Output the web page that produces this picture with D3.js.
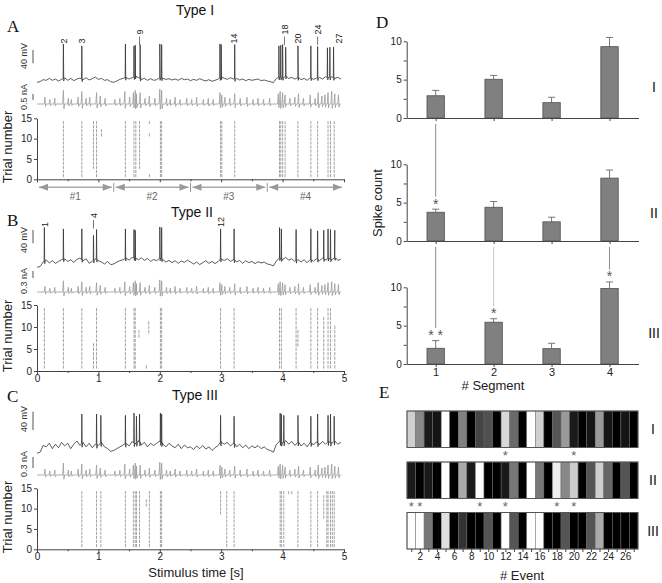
<!DOCTYPE html>
<html>
<head>
<meta charset="utf-8">
<script src="https://cdn.jsdelivr.net/npm/d3@7"></script>
<style>
  body { margin: 0; background: #fff; }
  svg { display: block; font-family: "Liberation Sans", Arial, sans-serif; }
  text { fill: #111; }
  .letter { font-family: "Liberation Serif", "Times New Roman", serif; font-size: 17px; }
</style>
</head>
<body>
<svg id="fig" width="662" height="583"></svg>
<script>
// ---- membrane potential, one trial, sampled every 50 ms (mV) ----
const vmStep = 0.05;
const vmTypeI = [-72,-70,-64,-66,-60,-66,-62,-68,-63,-58,
  -66,-60,-67,-62,-59,-64,-58,-65,-61,-56,
  -63,-60,-66,-64,-70,-72,-68,-63,-60,-57,
  -62,-58,-54,-57,-63,-60,-66,-61,-66,-64,
  -58,-60,-63,-61,-65,-62,-66,-60,-64,-62,
  -67,-63,-66,-61,-65,-68,-64,-69,-66,-62,
  -56,-60,-63,-58,-62,-60,-65,-62,-67,-63,
  -66,-64,-62,-67,-65,-68,-70,-73,-60,-56,
  -58,-54,-60,-57,-62,-58,-64,-60,-66,-58,
  -63,-60,-57,-62,-55,-58,-55,-60,-57,-62,
  -59];
const vmTypeII = [-78,-76,-62,-55,-65,-58,-66,-60,-55,-52,
  -60,-55,-63,-54,-50,-58,-52,-66,-60,-52,
  -58,-62,-68,-60,-70,-68,-62,-58,-55,-50,
  -56,-48,-50,-55,-49,-57,-51,-60,-54,-58,
  -50,-55,-62,-57,-64,-58,-66,-59,-63,-56,
  -62,-68,-62,-70,-64,-58,-66,-60,-67,-60,
  -52,-57,-52,-60,-55,-62,-57,-66,-58,-64,
  -60,-67,-61,-65,-62,-68,-70,-74,-58,-50,
  -54,-48,-56,-52,-60,-54,-62,-55,-64,-54,
  -60,-52,-58,-50,-56,-50,-55,-49,-57,-53,
  -56];
const vmTypeIII = [-72,-70,-55,-58,-50,-62,-52,-60,-48,-56,
  -50,-62,-52,-45,-55,-48,-58,-50,-60,-52,
  -55,-48,-58,-62,-68,-66,-62,-58,-54,-50,
  -56,-46,-52,-44,-54,-48,-58,-50,-55,-50,
  -45,-52,-58,-50,-56,-60,-52,-62,-54,-60,
  -58,-64,-56,-62,-55,-63,-58,-66,-60,-55,
  -46,-52,-48,-56,-50,-58,-52,-60,-54,-62,
  -56,-60,-55,-62,-58,-64,-66,-70,-52,-46,
  -50,-44,-52,-46,-55,-48,-56,-50,-58,-48,
  -54,-47,-53,-46,-52,-46,-50,-45,-52,-48,
  -52];

// spikes in the example trial: [time s, peak mV]
const spikesTypeI = [[0.43,46],[0.73,40],[1.44,46],[1.58,40],[1.60,42],[1.68,44],[2.00,46],[2.03,44],
  [2.98,46],[3.00,44],[3.22,44],[3.94,40],[3.97,42],[4.00,44],[4.05,36],[4.25,40],[4.46,40],
  [4.57,38],[4.73,34],[4.77,36],[4.83,36]];
const spikesTypeII = [[0.12,44],[0.43,40],[0.73,40],[0.92,20],[0.97,38],[1.44,40],[1.58,38],[1.60,36],
  [2.00,46],[2.03,44],[2.99,40],[3.21,40],[3.95,44],[3.98,40],[4.22,38],[4.46,40],[4.57,34],
  [4.67,36],[4.74,40],[4.78,38],[4.85,36]];
const spikesTypeIII = [[0.73,15],[0.97,15],[1.04,12],[1.44,12],[1.58,17],[1.62,10],[1.67,15],[2.01,17],
  [2.03,15],[2.99,12],[3.21,10],[3.96,17],[3.98,15],[4.02,12],[4.25,12],[4.46,10],[4.57,15],
  [4.74,12],[4.78,15],[4.84,10]];

// injected current peaks for type I (nA); other cells got a scaled copy
const stimPeaks = [[0.13,0.6],[0.21,0.4],[0.29,0.5],[0.43,1.2],[0.51,0.5],[0.56,0.4],[0.67,0.6],[0.73,1.1],
  [0.80,0.5],[0.86,0.6],[0.97,1.0],[1.03,0.7],[1.11,0.5],[1.27,0.4],[1.35,0.5],[1.43,1.1],[1.51,0.6],
  [1.57,1.0],[1.60,1.2],[1.62,0.9],[1.68,1.0],[1.76,0.5],[1.83,0.7],[1.92,0.5],[2.00,1.3],[2.03,1.2],
  [2.11,0.5],[2.17,0.4],[2.25,0.6],[2.33,0.4],[2.44,0.5],[2.52,0.4],[2.60,0.6],[2.71,0.4],[2.79,0.5],
  [2.87,0.4],[2.98,1.0],[3.01,0.8],[3.06,0.6],[3.14,0.5],[3.22,0.9],[3.31,0.5],[3.42,0.6],[3.52,0.4],
  [3.60,0.5],[3.69,0.4],[3.79,0.5],[3.93,0.9],[3.96,1.1],[4.00,1.0],[4.04,0.8],[4.12,0.5],[4.20,0.6],
  [4.26,0.9],[4.34,0.5],[4.45,0.8],[4.53,0.5],[4.58,1.0],[4.64,0.7],[4.69,0.8],[4.74,1.0],[4.80,1.1],
  [4.85,0.9],[4.91,0.8]];
const stimGain = [1, 0.4, 0.27];

// raster events: [time s, first trial, last trial]
const rasterTypeI = [[0.43,1,14],[0.73,1,14],[0.92,3,14],[0.97,1,14],[1.05,11,12],[1.44,1,14],[1.58,1,14],
  [1.61,1,14],[1.67,3,14],[1.83,14,14],[1.83,11,11],[1.83,1,1],[2.01,1,14],[2.03,1,14],[2.99,1,14],
  [3.01,1,14],[3.22,1,14],[3.95,1,14],[3.97,1,14],[4.00,1,14],[4.04,1,14],[4.25,1,14],[4.46,1,14],
  [4.57,1,14],[4.74,1,14],[4.78,1,14],[4.84,1,14]];
const rasterTypeII = [[0.12,1,14],[0.43,1,14],[0.73,1,14],[0.92,1,6],[0.97,1,14],[1.44,1,14],[1.58,1,14],
  [1.60,1,14],[1.66,8,9],[1.78,1,1],[1.82,9,11],[2.01,1,14],[2.03,1,14],[2.99,1,14],[3.21,1,14],
  [3.95,1,14],[3.98,1,14],[4.22,1,14],[4.25,6,9],[4.46,1,14],[4.57,1,14],[4.67,1,12],[4.74,1,14],
  [4.78,1,14],[4.85,1,10]];
const rasterTypeIII = [[0.73,1,14],[0.97,1,14],[1.04,1,14],[1.44,1,14],[1.57,1,14],[1.60,1,14],[1.62,1,14],
  [1.67,1,14],[1.78,11,12],[1.83,1,14],[2.01,1,14],[2.03,1,14],[2.99,9,14],[3.09,1,14],[3.21,1,14],
  [3.96,1,14],[3.98,1,14],[4.02,1,14],[4.10,14,14],[4.15,14,14],[4.25,1,14],[4.46,1,14],[4.57,1,14],
  [4.67,8,13],[4.72,1,14],[4.74,1,14],[4.78,1,14],[4.81,1,14],[4.84,1,14]];

// event numbers written over the traces: [number, time s, raised]
const eventLabelsTypeI = [[2,0.43,0],[3,0.73,0],[9,1.67,1],[14,3.21,0],[18,4.03,1],[20,4.25,0],[24,4.57,1],[27,4.92,0]];
const eventLabelsTypeII = [[1,0.12,0],[4,0.92,1],[12,2.99,0]];
const eventLabelsTypeIII = [];

const segmentNames = ["#1", "#2", "#3", "#4"];
const segmentBounds = [0, 1.25, 2.5, 3.75, 5];
const timeTicks = [0, 0.5, 1, 1.5, 2, 2.5, 3, 3.5, 4, 4.5, 5];
const trialTicks = [0, 5, 10, 15];

// panel D
const segmentTicks = [1, 2, 3, 4];
const spikeCountI = [2.9, 5.05, 2.0, 9.3];
const semI = [0.7, 0.5, 0.7, 1.2];
const spikeCountII = [3.75, 4.4, 2.5, 8.2];
const semII = [0.4, 0.75, 0.6, 1.05];
const spikeCountIII = [2.05, 5.45, 2.0, 9.85];
const semIII = [1.0, 0.45, 0.7, 0.85];
const countTicks = [0, 2.5, 5, 7.5, 10];
const starsI = [];
const starsII = [[1, "*"]];
const starsIII = [[1, "* *"], [2, "*"], [4, "*"]];
const starLinks = [[1, 0, 1], [1, 1, 2], [2, 1, 2], [4, 1, 2]]; // segment, from row, to row

// panel E: grey level of each event (0 black .. 255 white)
const eventGrayI = [208,136,26,21,255,0,128,0,68,80,0,216,106,0,255,208,0,85,153,26,0,21,153,21,0,21,0];
const eventGrayII = [26,0,26,0,255,0,170,26,255,0,0,26,119,0,255,119,0,238,136,204,0,85,208,102,0,85,0];
const eventGrayIII = [255,255,119,0,224,0,51,0,0,85,0,255,85,0,255,255,0,0,85,0,0,85,170,0,0,0,0];
const eventStarsI = [12, 20];
const eventStarsII = [1, 2, 9, 12, 18, 20];
const eventStarsIII = [];
const eventTicks = [1,2,3,4,5,6,7,8,9,10,11,12,13,14,15,16,17,18,19,20,21,22,23,24,25,26,27];

const svg = d3.select("#fig");
const x = d3.scaleLinear().domain([0, 5]).range([37, 344]);
const tEnd = 4.95;
const axisColor = "#444";

function styleAxis(g, size) {
  g.attr("font-family", null).attr("font-size", size || 10);
  g.select(".domain").attr("stroke", axisColor);
  g.selectAll(".tick line").attr("stroke", axisColor);
  g.selectAll(".tick text").style("fill", "#222");
}

function tracePoints(vm, spikes) {
  const ts = vm.map((_, i) => i * vmStep);
  const base = d3.scaleLinear().domain(ts).range(vm);
  const pts = ts.map((t, i) => [t, vm[i]]);
  spikes.forEach(([t, peak]) => {
    const b = base(t);
    pts.push([t - 0.004, b], [t, peak], [t + 0.005, b - 8], [t + 0.014, b]);
  });
  return pts.filter(p => p[0] <= tEnd).sort((a, b) => a[0] - b[0]);
}

function stimPoints(gain) {
  const pts = [[0, 0], [tEnd, 0]];
  stimPeaks.forEach(([t, a]) => {
    pts.push([t - 0.012, 0], [t, a * gain], [t + 0.008, -0.35 * a * gain], [t + 0.02, 0]);
  });
  return pts.filter(p => p[0] >= 0 && p[0] <= tEnd).sort((a, b) => a[0] - b[0]);
}

// roman numerals: drawn with a tiny rotation so they get plain grey antialiasing
function roman(x0, y0, txt) {
  svg.append("text").attr("transform", `translate(${x0},${y0}) rotate(0.01)`)
    .attr("text-anchor", "middle").attr("font-size", 14).style("fill", "#111").text(txt);
}

const panels = [
  { title: "Type I", titleX: 195, titleY: 15, letter: "A", letterY: 32,
    vm: vmTypeI, spikes: spikesTypeI, labels: eventLabelsTypeI, raster: rasterTypeI, gain: stimGain[0],
    vRest: 80, pxPerMv: 13 / 40, iBase: 104, pxPerNa: 11.4,
    vBar: [50, 63.3], vText: "40 mV", vTextY: 56, iBar: [94, 100], iText: "0.5 nA", iTextY: 97,
    labelBase: 43.5, rTop: 118.3, rBot: 179.3, trialY: 147, xLabels: false },
  { title: "Type II", titleX: 192, titleY: 217, letter: "B", letterY: 226,
    vm: vmTypeII, spikes: spikesTypeII, labels: eventLabelsTypeII, raster: rasterTypeII, gain: stimGain[1],
    vRest: 263, pxPerMv: 13 / 40, iBase: 292, pxPerNa: 23.3,
    vBar: [230, 243.3], vText: "40 mV", vTextY: 240, iBar: [271, 278], iText: "0.3 nA", iTextY: 281,
    labelBase: 227, rTop: 305, rBot: 371, trialY: 336, xLabels: true },
  { title: "Type III", titleX: 195, titleY: 400, letter: "C", letterY: 402,
    vm: vmTypeIII, spikes: spikesTypeIII, labels: eventLabelsTypeIII, raster: rasterTypeIII, gain: stimGain[2],
    vRest: 450, pxPerMv: 18 / 40, iBase: 475, pxPerNa: 36.7,
    vBar: [411.7, 430], vText: "40 mV", vTextY: 419, iBar: [457, 468], iText: "0.3 nA", iTextY: 464,
    labelBase: 0, rTop: 488.3, rBot: 549.3, trialY: 517, xLabels: true }
];

panels.forEach(p => {
  const g = svg.append("g");
  g.append("text").attr("x", p.titleX).attr("y", p.titleY).attr("text-anchor", "middle")
    .attr("font-size", 14).text(p.title);
  g.append("text").attr("class", "letter").attr("x", 7).attr("y", p.letterY).text(p.letter);

  // voltage trace
  const yV = d3.scaleLinear().domain([-65, 35]).range([p.vRest, p.vRest - 100 * p.pxPerMv]);
  g.append("path").datum(tracePoints(p.vm, p.spikes))
    .attr("d", d3.line().x(d => x(d[0])).y(d => yV(d[1])))
    .attr("fill", "none").attr("stroke", "#333").attr("stroke-width", 0.8);

  // current trace
  const yI = d3.scaleLinear().domain([0, 1]).range([p.iBase, p.iBase - p.pxPerNa]);
  g.append("path").datum(stimPoints(p.gain))
    .attr("d", d3.line().x(d => x(d[0])).y(d => yI(d[1]))).attr("fill", "none")
    .attr("stroke", "#9a9a9a").attr("stroke-width", 0.8);

  // scale bars
  [[p.vBar, p.vText, p.vTextY], [p.iBar, p.iText, p.iTextY]].forEach(([bar, txt, ty]) => {
    g.append("line").attr("x1", 33).attr("x2", 33).attr("y1", bar[0]).attr("y2", bar[1])
      .attr("stroke", "#555").attr("stroke-width", 1);
    g.append("text").attr("transform", `translate(27,${ty}) rotate(-90)`).attr("text-anchor", "middle")
      .attr("font-size", 9).style("fill", "#333").text(txt);
  });

  // event numbers
  p.labels.forEach(([n, t, raised]) => {
    const bottom = p.labelBase - (raised ? 9 : 0);
    g.append("text").attr("transform", `translate(${x(t)},${bottom}) rotate(-90)`)
      .attr("dy", "0.35em").attr("font-size", 9).style("fill", "#222").text(n);
    if (raised) {
      g.append("line").attr("x1", x(t)).attr("x2", x(t)).attr("y1", p.labelBase - 7).attr("y2", p.labelBase + 1.5)
        .attr("stroke", "#555").attr("stroke-width", 0.8);
    }
  });

  // raster
  const yR = d3.scaleLinear().domain([0, 15]).range([p.rBot, p.rTop]);
  const rg = g.append("g").attr("stroke", "#8a8a8a").attr("stroke-width", 0.8);
  p.raster.forEach(([t, lo, hi]) => {
    d3.range(lo, hi + 1).forEach(k => {
      rg.append("line").attr("x1", x(t)).attr("x2", x(t)).attr("y1", yR(k - 0.45)).attr("y2", yR(k + 0.3));
    });
  });

  const ya = g.append("g").attr("transform", `translate(${x(0)},0)`)
    .call(d3.axisLeft(yR).tickValues(trialTicks).tickSize(3).tickSizeOuter(0).tickPadding(2));
  styleAxis(ya, 10);
  const xa = g.append("g").attr("transform", `translate(0,${p.rBot})`)
    .call(d3.axisBottom(x).tickValues(timeTicks).tickSize(3).tickSizeOuter(0).tickPadding(1)
      .tickFormat(d => (p.xLabels && Number.isInteger(d)) ? d : ""));
  styleAxis(xa, 10);
  xa.selectAll(".tick line").filter(d => !Number.isInteger(d)).attr("y2", 2);

  g.append("text").attr("transform", `translate(12,${p.trialY}) rotate(-90)`).attr("text-anchor", "middle")
    .attr("font-size", 13).style("fill", "#222").text("Trial number");
});

// segment arrows under panel A
const segY = 187.3;
const sg = svg.append("g");
segmentNames.forEach((name, i) => {
  const a = x(segmentBounds[i]), b = x(segmentBounds[i + 1]);
  sg.append("line").attr("x1", a + 2).attr("x2", b - 2).attr("y1", segY).attr("y2", segY)
    .attr("stroke", "#aaa").attr("stroke-width", 1.5);
  sg.append("path").attr("d", `M${a + 2},${segY}L${a + 11},${segY - 3.5}L${a + 11},${segY + 3.5}Z`).attr("fill", "#999");
  sg.append("path").attr("d", `M${b - 2},${segY}L${b - 11},${segY - 3.5}L${b - 11},${segY + 3.5}Z`).attr("fill", "#999");
  if (i > 0) {
    sg.append("line").attr("x1", a).attr("x2", a).attr("y1", segY - 4.5).attr("y2", segY + 4.5)
      .attr("stroke", "#999").attr("stroke-width", 1);
  }
  sg.append("text").attr("x", (a + b) / 2).attr("y", 200).attr("text-anchor", "middle")
    .attr("font-size", 10).style("fill", "#666").text(name);
});
svg.append("text").attr("x", 196).attr("y", 577).attr("text-anchor", "middle").attr("font-size", 13)
  .style("fill", "#222").text("Stimulus time [s]");

// ---- panel D ----
svg.append("text").attr("class", "letter").attr("x", 376).attr("y", 28).text("D");
const xD = d3.scaleLinear().domain([0.5, 4.5]).range([406.7, 638.5]);
const barW = xD(0.8) - xD(0.5);
const dRows = [
  { mean: spikeCountI, sem: semI, stars: starsI, y0: 118, name: "I", nameY: 92 },
  { mean: spikeCountII, sem: semII, stars: starsII, y0: 241, name: "II", nameY: 218 },
  { mean: spikeCountIII, sem: semIII, stars: starsIII, y0: 364, name: "III", nameY: 338 }
];
dRows.forEach(r => { r.y = d3.scaleLinear().domain([0, 10]).range([r.y0, r.y0 - 76.7]); });

// links between significant bars
starLinks.forEach(([seg, from, to]) => {
  const rt = dRows[to];
  const top = rt.y(rt.mean[seg - 1] + rt.sem[seg - 1]);
  svg.append("line").attr("x1", xD(seg)).attr("x2", xD(seg))
    .attr("y1", dRows[from].y0 + 6).attr("y2", top - 12.5)
    .attr("stroke", seg === 2 ? "#c4c4c4" : "#8c8c8c").attr("stroke-width", 1);
});

dRows.forEach((r, ri) => {
  const g = svg.append("g");
  r.mean.forEach((m, i) => {
    const s = segmentTicks[i];
    const top = r.y(m + r.sem[i]);
    g.append("line").attr("x1", xD(s)).attr("x2", xD(s)).attr("y1", r.y(m)).attr("y2", top)
      .attr("stroke", "#777").attr("stroke-width", 1);
    g.append("line").attr("x1", xD(s) - 3.5).attr("x2", xD(s) + 3.5).attr("y1", top).attr("y2", top)
      .attr("stroke", "#777").attr("stroke-width", 1);
    g.append("rect").attr("x", xD(s) - barW / 2).attr("y", r.y(m)).attr("width", barW)
      .attr("height", r.y(0) - r.y(m)).attr("fill", "#808080").attr("stroke", "#505050").attr("stroke-width", 0.8);
  });
  r.stars.forEach(([s, txt]) => {
    const top = r.y(r.mean[s - 1] + r.sem[s - 1]);
    g.append("text").attr("x", xD(s)).attr("y", top - 0.5).attr("text-anchor", "middle")
      .attr("font-size", 14).style("fill", "#555").text(txt);
  });
  const ya = g.append("g").attr("transform", `translate(${xD(0.5)},0)`)
    .call(d3.axisLeft(r.y).tickValues(countTicks).tickSize(3).tickSizeOuter(0).tickPadding(2)
      .tickFormat(d => Number.isInteger(d) ? d : ""));
  styleAxis(ya, 10);
  const xa = g.append("g").attr("transform", `translate(0,${r.y0})`)
    .call(d3.axisBottom(xD).tickValues(segmentTicks).tickSize(3).tickSizeOuter(0).tickPadding(1)
      .tickFormat(d => ri === 2 ? d : ""));
  styleAxis(xa, 11);
  roman(654, r.nameY, r.name);
});
svg.append("text").attr("transform", "translate(382,203) rotate(-90)").attr("text-anchor", "middle")
  .attr("font-size", 13).style("fill", "#222").text("Spike count");
svg.append("text").attr("x", 493).attr("y", 390).attr("text-anchor", "middle")
  .attr("font-size", 13).style("fill", "#222").text("# Segment");

// ---- panel E ----
svg.append("text").attr("class", "letter").attr("x", 379).attr("y", 398).text("E");
const xE = d3.scaleLinear().domain([0.5, 27.5]).range([407, 638]);
const cellW = xE(1.5) - xE(0.5);
const eRows = [
  { gray: eventGrayI, stars: eventStarsI, top: 411, name: "I" },
  { gray: eventGrayII, stars: eventStarsII, top: 462, name: "II" },
  { gray: eventGrayIII, stars: eventStarsIII, top: 512.5, name: "III" }
];
const rowH = 36.5;
eRows.forEach(r => {
  const g = svg.append("g");
  r.gray.forEach((v, i) => {
    const ev = eventTicks[i];
    g.append("rect").attr("x", xE(ev - 0.5)).attr("y", r.top).attr("width", cellW).attr("height", rowH)
      .attr("fill", d3.rgb(v, v, v)).attr("stroke", "#6a6a6a").attr("stroke-width", 0.5);
  });
  g.append("rect").attr("x", xE(0.5)).attr("y", r.top).attr("width", xE(27.5) - xE(0.5)).attr("height", rowH)
    .attr("fill", "none").attr("stroke", "#555").attr("stroke-width", 1);
  r.stars.forEach(ev => {
    g.append("text").attr("x", xE(ev)).attr("y", r.top + rowH + 12.5).attr("text-anchor", "middle")
      .attr("font-size", 13).style("fill", "#666").text("*");
  });
  roman(653, r.top + rowH / 2 + 5, r.name);
});
const ea = svg.append("g").attr("transform", `translate(0,${512.5 + rowH})`)
  .call(d3.axisBottom(xE).tickValues(eventTicks).tickSize(3).tickSizeOuter(0).tickPadding(1)
    .tickFormat(d => d % 2 === 0 ? d : ""));
styleAxis(ea, 10);
ea.select(".domain").remove();
svg.append("text").attr("x", 522).attr("y", 580).attr("text-anchor", "middle")
  .attr("font-size", 13).style("fill", "#222").text("# Event");
</script>
</body>
</html>
